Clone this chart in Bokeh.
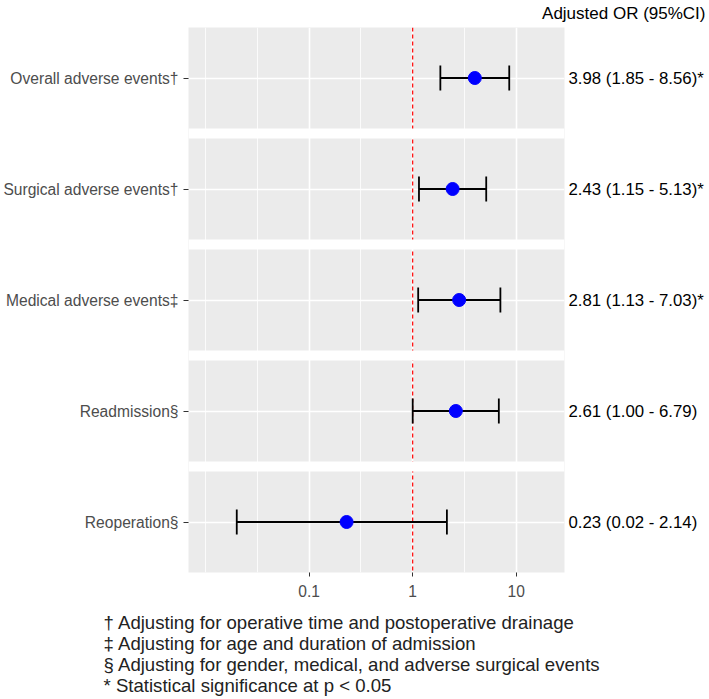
import numpy as np
from bokeh.plotting import figure
from bokeh.models import (Range1d, FixedTicker, BoxAnnotation, Span, Title,
                          ColumnDataSource, CustomJSTickFormatter, LinearAxis, LogAxis)
from bokeh.embed import file_html
from bokeh.resources import INLINE

# ---------------- data ----------------
outcomes = ["Overall adverse events\u2020", "Surgical adverse events\u2020",
            "Medical adverse events\u2021", "Readmission\u00a7", "Reoperation\u00a7"]
odds_ratio = [3.98, 2.43, 2.81, 2.61, 0.23]
ci_lower = [1.85, 1.15, 1.13, 1.00, 0.02]
ci_upper = [8.56, 5.13, 7.03, 6.79, 2.14]
significant = [True, True, True, False, False]

x_ticks = [0.1, 1, 10]
x_tick_labels = ["0.1", "1", "10"]
x_limits = [0.01, 20]
reference_value = 1

right_header = "Adjusted OR (95%CI)"
footnotes = [
    "\u2020 Adjusting for operative time and postoperative drainage",
    "\u2021 Adjusting for age and duration of admission",
    "\u00a7 Adjusting for gender, medical, and adverse surgical events",
    "* Statistical significance at p < 0.05",
]

# ---------------- layout ----------------
W, H = 708, 698
FL, FT, FW = 188, 27, 376
PANEL_H, GAP = 101, 10
n = len(outcomes)
FH = n * PANEL_H + (n - 1) * GAP
CAP = 12.5
FONT = "Liberation Sans"

lo_l, hi_l = np.log10(x_limits[0]), np.log10(x_limits[1])
pad = 0.05 * (hi_l - lo_l)
xlo_l, xhi_l = lo_l - pad, hi_l + pad

centers = [i * (PANEL_H + GAP) + PANEL_H / 2 for i in range(n)]
right_texts = [f"{o:.2f} ({l:.2f} - {h:.2f})" + ("*" if s else "")
               for o, l, h, s in zip(odds_ratio, ci_lower, ci_upper, significant)]

p = figure(width=W, height=H, x_axis_type="log",
           x_range=Range1d(10 ** xlo_l, 10 ** xhi_l),
           y_range=Range1d(FH, 0),
           output_backend="svg", toolbar_location=None,
           min_border_left=FL, min_border_right=W - FL - FW,
           min_border_top=FT, min_border_bottom=H - FT - FH)
p.background_fill_color = "#EBEBEB"
p.border_fill_color = "white"
p.outline_line_color = None

# header (right aligned, above the panels)
p.title.text = right_header
p.title.align = "right"
p.title.vertical_align = "top"
p.title.offset = -(705 - FL - FW)
p.title.standoff = 6
p.title.text_font = FONT
p.title.text_font_size = "17px"
p.title.text_font_style = "normal"
p.title.text_color = "black"

# x axis
minor = [10 ** (k + 0.5) for k in range(-2, 1)] + [x_limits[0]]
xt = FixedTicker(ticks=x_ticks, minor_ticks=sorted(minor))
p.xaxis.ticker = xt
p.xgrid.ticker = xt
p.xaxis.formatter = CustomJSTickFormatter(
    args=dict(vals=x_ticks, labs=x_tick_labels),
    code="for (let i = 0; i < vals.length; i++) { if (Math.abs(Math.log10(vals[i]) - Math.log10(tick)) < 1e-6) return labs[i]; } return '';")
p.xaxis.axis_line_color = None
p.xaxis.major_tick_line_color = "#333333"
p.xaxis.major_tick_out = 4
p.xaxis.major_tick_in = 0
p.xaxis.minor_tick_out = 0
p.xaxis.minor_tick_in = 0
p.xaxis.major_label_standoff = 8
p.xaxis.major_label_text_color = "#4D4D4D"
p.xaxis.major_label_text_font = FONT
p.xaxis.major_label_text_font_size = "15.6px"

# y axis (left: outcome names)
yt = FixedTicker(ticks=centers)
p.yaxis.ticker = yt
p.ygrid.ticker = yt
p.yaxis.formatter = CustomJSTickFormatter(
    args=dict(vals=centers, labs=outcomes),
    code="for (let i = 0; i < vals.length; i++) { if (Math.abs(vals[i] - tick) < 1e-6) return labs[i]; } return '';")
p.yaxis.axis_line_color = None
p.yaxis.major_tick_line_color = "#333333"
p.yaxis.major_tick_out = 5
p.yaxis.major_tick_in = 0
p.yaxis.minor_tick_out = 0
p.yaxis.minor_tick_in = 0
p.yaxis.major_label_standoff = 5
p.yaxis.major_label_text_color = "#4D4D4D"
p.yaxis.major_label_text_font = FONT
p.yaxis.major_label_text_font_size = "15.6px"

# right axis: OR (95% CI) texts
ry = LinearAxis(ticker=FixedTicker(ticks=centers),
                formatter=CustomJSTickFormatter(
                    args=dict(vals=centers, labs=right_texts),
                    code="for (let i = 0; i < vals.length; i++) { if (Math.abs(vals[i] - tick) < 1e-6) return labs[i]; } return '';"))
ry.axis_line_color = None
ry.major_tick_line_color = None
ry.major_tick_out = 0
ry.major_tick_in = 0
ry.minor_tick_out = 0
ry.minor_tick_in = 0
ry.major_label_standoff = 4
ry.major_label_text_color = "black"
ry.major_label_text_font = FONT
ry.major_label_text_font_size = "16.8px"
p.add_layout(ry, "right")

# grids
p.xgrid.grid_line_color = "white"
p.xgrid.grid_line_width = 1.6
p.xgrid.minor_grid_line_color = "white"
p.xgrid.minor_grid_line_width = 0.8
p.ygrid.grid_line_color = "white"
p.ygrid.grid_line_width = 1.6

# reference line
p.add_layout(Span(location=reference_value, dimension="height", line_color="#FF0000",
                  line_dash="4 3", line_width=1.2, level="underlay"))

# white gaps between facet panels
for i in range(n - 1):
    p.add_layout(BoxAnnotation(top=centers[i] + PANEL_H / 2,
                               bottom=centers[i + 1] - PANEL_H / 2,
                               fill_color="white", fill_alpha=1.0,
                               line_color=None, line_alpha=0))

src = ColumnDataSource(dict(
    y=centers, orv=odds_ratio, lo=ci_lower, hi=ci_upper,
    c0=[c - CAP for c in centers], c1=[c + CAP for c in centers]))

p.segment(x0="lo", x1="hi", y0="y", y1="y", source=src, line_color="black", line_width=1.8)
p.segment(x0="lo", x1="lo", y0="c0", y1="c1", source=src, line_color="black", line_width=1.8)
p.segment(x0="hi", x1="hi", y0="c0", y1="c1", source=src, line_color="black", line_width=1.8)
p.scatter(x="orv", y="y", source=src, size=13, fill_color="#0000FF", line_color="#0000FF")

# blank spacer axis (white tick on white, no label) between tick labels and footnotes
spacer = LogAxis(ticker=FixedTicker(ticks=[reference_value]), axis_line_color=None,
                 major_tick_out=12, major_tick_in=0, minor_tick_out=0, minor_tick_in=0,
                 major_tick_line_color="white", major_label_standoff=0,
                 major_label_text_font_size="1px", major_label_text_color="white",
                 formatter=CustomJSTickFormatter(code="return '';"))
p.add_layout(spacer, "below")

# footnotes as titles below the x axis
for t in footnotes:
    ft = Title(text=t, align="left", offset=103 - FL, standoff=-2,
               text_font=FONT, text_font_size="18.6px", text_font_style="normal",
               text_color="#222222", vertical_align="middle")
    p.add_layout(ft, "below")

open("out.html", "w").write(file_html(p, INLINE))
